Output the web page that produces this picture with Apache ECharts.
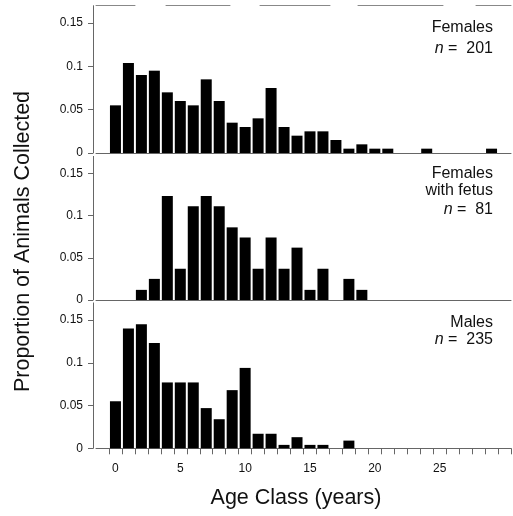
<!DOCTYPE html>
<html><head><meta charset="utf-8">
<script src="https://cdn.jsdelivr.net/npm/echarts@6/dist/echarts.min.js"></script>
<style>html,body{margin:0;padding:0;background:#fff}#c{width:513px;height:516px}</style>
</head><body><div id="c"></div>
<script>
// Age classes (years)
const ageClasses = [0,1,2,3,4,5,6,7,8,9,10,11,12,13,14,15,16,17,18,19,20,21,22,23,24,25,26,27,28,29];
const xTickLabels = ['0','5','10','15','20','25'];
const yTickValues = [0, 0.05, 0.1, 0.15];

// Proportion of animals collected per age class
const females = [0.055,0.104,0.090,0.095,0.070,0.060,0.055,0.085,0.060,0.035,0.030,0.040,0.075,0.030,0.020,0.025,0.025,0.015,0.005,0.010,0.005,0.005,0,0,0.005,0,0,0,0,0.005];
const femalesWithFetus = [0,0,0.012,0.025,0.123,0.037,0.111,0.123,0.111,0.086,0.074,0.037,0.074,0.037,0.062,0.012,0.037,0,0.025,0.012,0,0,0,0,0,0,0,0,0,0];
const males = [0.055,0.140,0.145,0.123,0.077,0.077,0.077,0.047,0.034,0.068,0.094,0.017,0.017,0.004,0.013,0.004,0.004,0,0.009,0,0,0,0,0,0,0,0,0,0,0];

const panelLabels = [
  ['Females'],
  ['Females', 'with fetus'],
  ['Males']
];
const panelN = ['201', '81', '235'];
const yTitle = 'Proportion of Animals Collected';
const xTitle = 'Age Class (years)';

const FONT = '"Liberation Sans", Arial, Helvetica, sans-serif';
const categories = ['-1'].concat(ageClasses.map(String), ['30']);
const pad = arr => [null].concat(arr.map(v => v === 0 ? null : v), [null]);
const seriesData = [females, femalesWithFetus, males];

const grids = [
  {left: 96, right: 2, top: 5.7, height: 147.3},
  {left: 96, right: 2, top: 156.4, height: 143.6},
  {left: 96, right: 2, top: 302.9, height: 145.4}
];
const axisColor = '#666';

const xAxes = grids.map((g, i) => ({
  type: 'category', gridIndex: i, data: categories,
  axisLine: {show: true, lineStyle: {color: axisColor, width: 1}},
  axisTick: {show: i === 2, length: 6, lineStyle: {color: axisColor},
    interval: (idx) => idx >= 1 && idx <= 31},
  axisLabel: {show: i === 2, fontFamily: FONT, fontSize: 12, color: '#111', margin: 14,
    interval: (idx, val) => xTickLabels.indexOf(val) >= 0},
  splitLine: {show: false}
}));
xAxes.push({
  type: 'category', gridIndex: 0, position: 'top', data: categories,
  axisLine: {show: true, lineStyle: {color: '#888', width: 1, type: [39,31,64,30,70,28,85,33,60]}},
  axisTick: {show: false}, axisLabel: {show: false}, splitLine: {show: false}
});

const yAxes = grids.map((g, i) => ({
  type: 'value', gridIndex: i, min: 0, max: 0.17, offset: 3,
  axisLine: {show: true, lineStyle: {color: axisColor, width: 1}},
  axisTick: {show: true, length: 5, customValues: yTickValues, lineStyle: {color: axisColor}},
  axisLabel: {show: true, customValues: yTickValues, fontFamily: FONT, fontSize: 12, color: '#111', margin: 10,
    formatter: v => (v === 0 ? '0' : String(v))},
  splitLine: {show: false}
}));

const series = seriesData.map((d, i) => ({
  type: 'bar', xAxisIndex: i, yAxisIndex: i, data: pad(d),
  barWidth: 11, itemStyle: {color: '#000'}, silent: true
}));

// annotation text lines
const textCenters = [[27.5, 49], [174, 191, 209.5], [323, 339.5]];
const graphics = [];
panelLabels.forEach((lines, i) => {
  const ys = textCenters[i];
  lines.forEach((t, j) => {
    graphics.push({type: 'text', x: 493, y: ys[j], style: {
      text: t, font: '16px ' + FONT, fill: '#111', textAlign: 'right', textVerticalAlign: 'middle'}});
  });
  graphics.push({type: 'text', x: 493, y: ys[lines.length], style: {
    text: '{i|n} =  ' + panelN[i], fontFamily: FONT, fontSize: 16, fill: '#111',
    textAlign: 'right', textVerticalAlign: 'middle',
    rich: {i: {fontStyle: 'italic', fontFamily: FONT, fontSize: 16, fill: '#111'}}}});
});
graphics.push({type: 'text', x: 296, y: 498, style: {
  text: xTitle, font: '21.5px ' + FONT, fill: '#111', textAlign: 'center', textVerticalAlign: 'middle'}});
graphics.push({type: 'text', x: 23, y: 241.5, rotation: Math.PI / 2, style: {
  text: yTitle, font: '21.5px ' + FONT, fill: '#111', textAlign: 'center', textVerticalAlign: 'middle'}});

const chart = echarts.init(document.getElementById('c'), null, {renderer: 'canvas'});
chart.setOption({
  animation: false,
  backgroundColor: '#fff',
  grid: grids,
  xAxis: xAxes,
  yAxis: yAxes,
  series: series,
  graphic: graphics
});
</script></body></html>
